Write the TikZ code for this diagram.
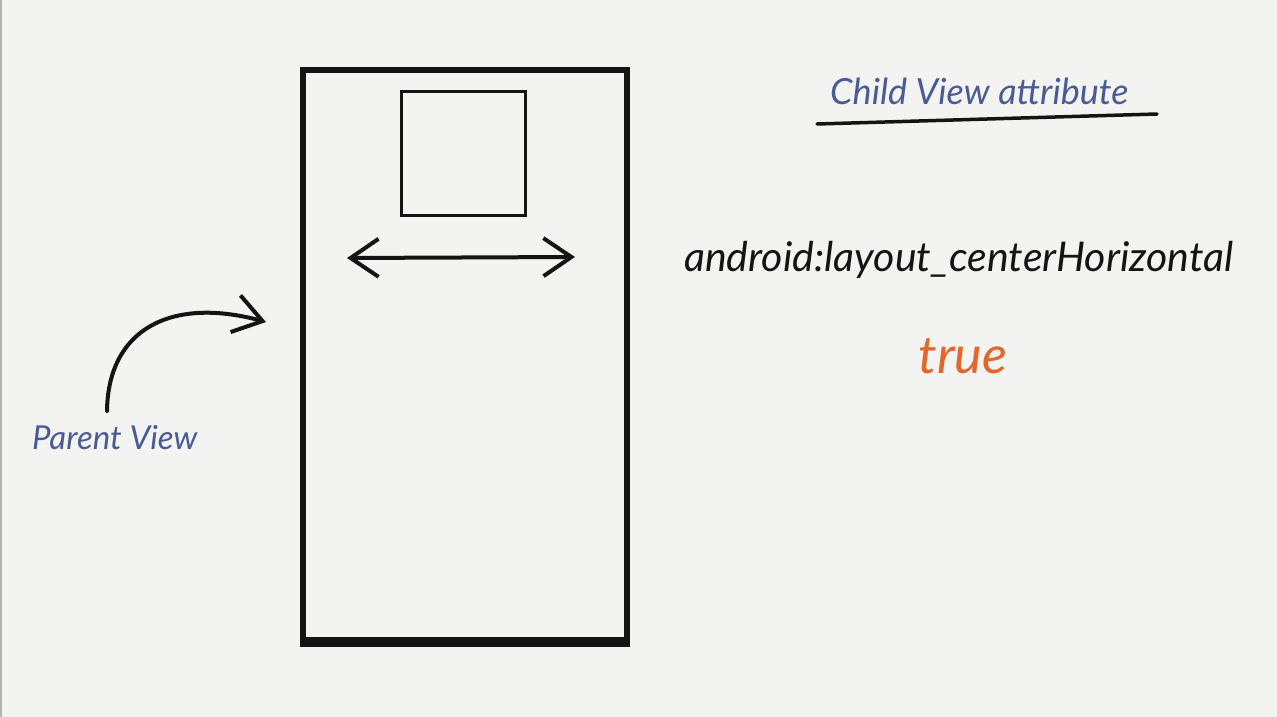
\documentclass[tikz,border=0pt]{standalone}
\usepackage{fontspec}
\setmainfont{Lato}
\usetikzlibrary{arrows.meta}
\definecolor{paper}{RGB}{243,243,242}
\definecolor{inkblue}{RGB}{74,90,150}
\definecolor{inkorange}{RGB}{228,102,40}
\definecolor{ink}{RGB}{20,20,20}
\tikzset{
  hand/.style={inner sep=0pt},
  barb/.style={-{Straight Barb[length=28pt,width=38pt]}},
  dbarb/.style={{Straight Barb[length=28pt,width=38pt]}-{Straight Barb[length=28pt,width=38pt]}},
}
\begin{document}
\begin{tikzpicture}[x=1pt,y=-1pt]
\fill[paper] (0,0) rectangle (1277,717);
\useasboundingbox (0,0) rectangle (1277,717);
\draw[gray!60,line width=1.5pt] (0.75,0) -- (0.75,717);
% parent frame
\node[draw=ink,line width=6pt,minimum width=324pt,minimum height=571pt,inner sep=0pt] (frame) at (465,355.5) {};
\draw[ink,line width=10pt] ([yshift=2pt]frame.south west) -- ([yshift=2pt]frame.south east);
% child square
\node[draw=ink,line width=2.4pt,minimum width=124pt,minimum height=124pt,inner sep=0pt] (child) at (463.5,153.5) {};
% double arrow
\coordinate (dl) at (347,258);
\coordinate (dr) at (575,257);
\draw[ink,line width=4pt,line cap=round,dbarb] (dl) -- (dr);
% labels
\node[hand,text=inkblue,font=\itshape\fontsize{36}{40}\selectfont,anchor=base west] (childlbl) at (830,104) {Child View attribute};
\coordinate (ul1) at (817,124);
\coordinate (ul2) at (1157,114);
\draw[ink,line width=3.5pt,line cap=round] (ul1) -- (ul2);
\node[hand,text=ink,font=\itshape\fontsize{41}{46}\selectfont,anchor=base west] (attr) at (684,271) {android:layout\_centerHorizontal};
\node[hand,text=inkorange,font=\itshape\fontsize{52}{56}\selectfont,anchor=base] (val) at (963,373) {true};
\node[hand,text=inkblue,font=\itshape\fontsize{33}{36}\selectfont,anchor=base west] (parent) at (32,449) {Parent View};
% curved arrow
\coordinate (cs) at (107,411);
\coordinate (ce) at (266,322);
\draw[ink,line width=4pt,line cap=round,barb] (cs) .. controls (108,330) and (170,296) .. (ce);
\end{tikzpicture}
\end{document}
